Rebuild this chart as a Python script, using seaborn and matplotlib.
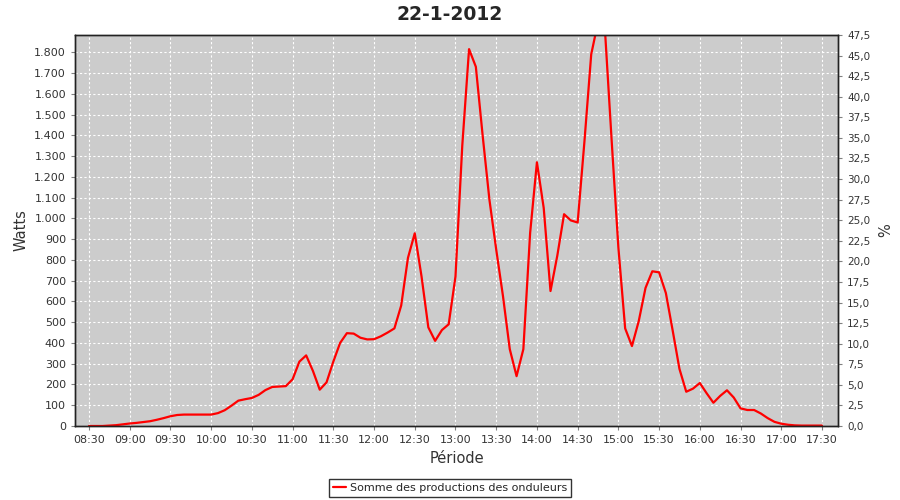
import pandas as pd
import matplotlib
matplotlib.use("Agg")
import matplotlib.pyplot as plt
import matplotlib.dates as mdates
from matplotlib.ticker import MultipleLocator, FuncFormatter
import seaborn as sns

# production readings, every 5 minutes from 08:30 to 17:30
start = "2012-01-22 08:30"
watts = [
    0, 0, 0, 2, 4, 8, 12, 15, 19, 23, 30, 38,            # 08:30 - 09:25
    47, 53, 55, 55, 55, 55, 55, 62, 76, 98, 122, 129,    # 09:30 - 10:25
    135, 150, 173, 188, 190, 192, 225, 310, 340, 265, 175, 210,  # 10:30 - 11:25
    310, 400, 447, 445, 425, 417, 418, 432, 450, 470, 580, 810,  # 11:30 - 12:25
    928, 720, 475, 410, 462, 490, 720, 1350, 1815, 1730, 1400, 1090,  # 12:30 - 13:25
    850, 625, 370, 240, 370, 930, 1270, 1050, 650, 820, 1020, 990,  # 13:30 - 14:25
    980, 1370, 1790, 1945, 1920, 1380, 860, 470, 385, 505, 665, 745,  # 14:30 - 15:25
    740, 640, 460, 275, 165, 180, 207, 158, 112, 145, 172, 137,  # 15:30 - 16:25
    85, 77, 77, 60, 38, 20, 11, 6, 3, 2, 2, 2,           # 16:30 - 17:25
    2,                                                   # 17:30
]
times = pd.date_range(start, periods=len(watts), freq="5min")
series_name = "Somme des productions des onduleurs"

df = pd.DataFrame({"Heure": times, "Watts": watts})

sns.set_style("white")
plt.rcParams["font.family"] = ["DejaVu Sans"]

fig = plt.figure(figsize=(9, 5), dpi=100)
ax = fig.add_axes([75 / 900, 1 - 426 / 500, 763 / 900, 391 / 500])
ax.set_facecolor("#cccccc")

sns.lineplot(data=df, x="Heure", y="Watts", color="red", linewidth=1.6,
             ax=ax, label=series_name, legend=False)

t0 = times[0]
ax.set_xlim(t0 - pd.Timedelta(minutes=10.3), times[-1] + pd.Timedelta(minutes=11.8))
ax.set_ylim(0, 1883)

ax.xaxis.set_major_locator(mdates.MinuteLocator(byminute=[0, 30]))
ax.xaxis.set_major_formatter(mdates.DateFormatter("%H:%M"))
ax.yaxis.set_major_locator(MultipleLocator(100))
ax.yaxis.set_major_formatter(FuncFormatter(lambda v, p: f"{int(v):,}".replace(",", ".")))

ax.grid(True, color="white", linestyle=(0, (2, 2)), linewidth=0.8)
ax.tick_params(axis="both", labelsize=8, length=3, color="#808080",
               labelcolor="#333333", direction="out")
ax.tick_params(axis="x", bottom=True)
ax.tick_params(axis="y", left=True)

for s in ax.spines.values():
    s.set_color("#222222")
    s.set_linewidth(1.0)

ax.set_xlabel("Période", fontsize=10.5, color="#333333", labelpad=4)
ax.set_ylabel("Watts", fontsize=10.5, color="#333333", labelpad=4)

ax2 = ax.twinx()
ax2.set_ylim(0, 47.5)
ax2.yaxis.set_major_locator(MultipleLocator(2.5))
ax2.yaxis.set_major_formatter(FuncFormatter(lambda v, p: f"{v:.1f}".replace(".", ",")))
ax2.tick_params(axis="y", labelsize=7.5, length=3, color="#808080",
                labelcolor="#333333", right=True, direction="out")
ax2.set_ylabel("%", fontsize=10.5, color="#333333", labelpad=6)
for s in ax2.spines.values():
    s.set_color("#222222")
    s.set_linewidth(1.0)

fig.suptitle("22-1-2012", fontsize=13.5, fontweight="bold", y=1 - 15 / 500, va="center")

handles, labels = ax.get_legend_handles_labels()
leg = fig.legend(handles, labels, loc="center", bbox_to_anchor=(0.5, 1 - 488 / 500),
                 fontsize=8, frameon=True, fancybox=False, edgecolor="black",
                 handlelength=1.2, borderpad=0.35, handletextpad=0.3)
leg.get_frame().set_linewidth(1.0)

fig.savefig("out.png", dpi=100, facecolor="white")
